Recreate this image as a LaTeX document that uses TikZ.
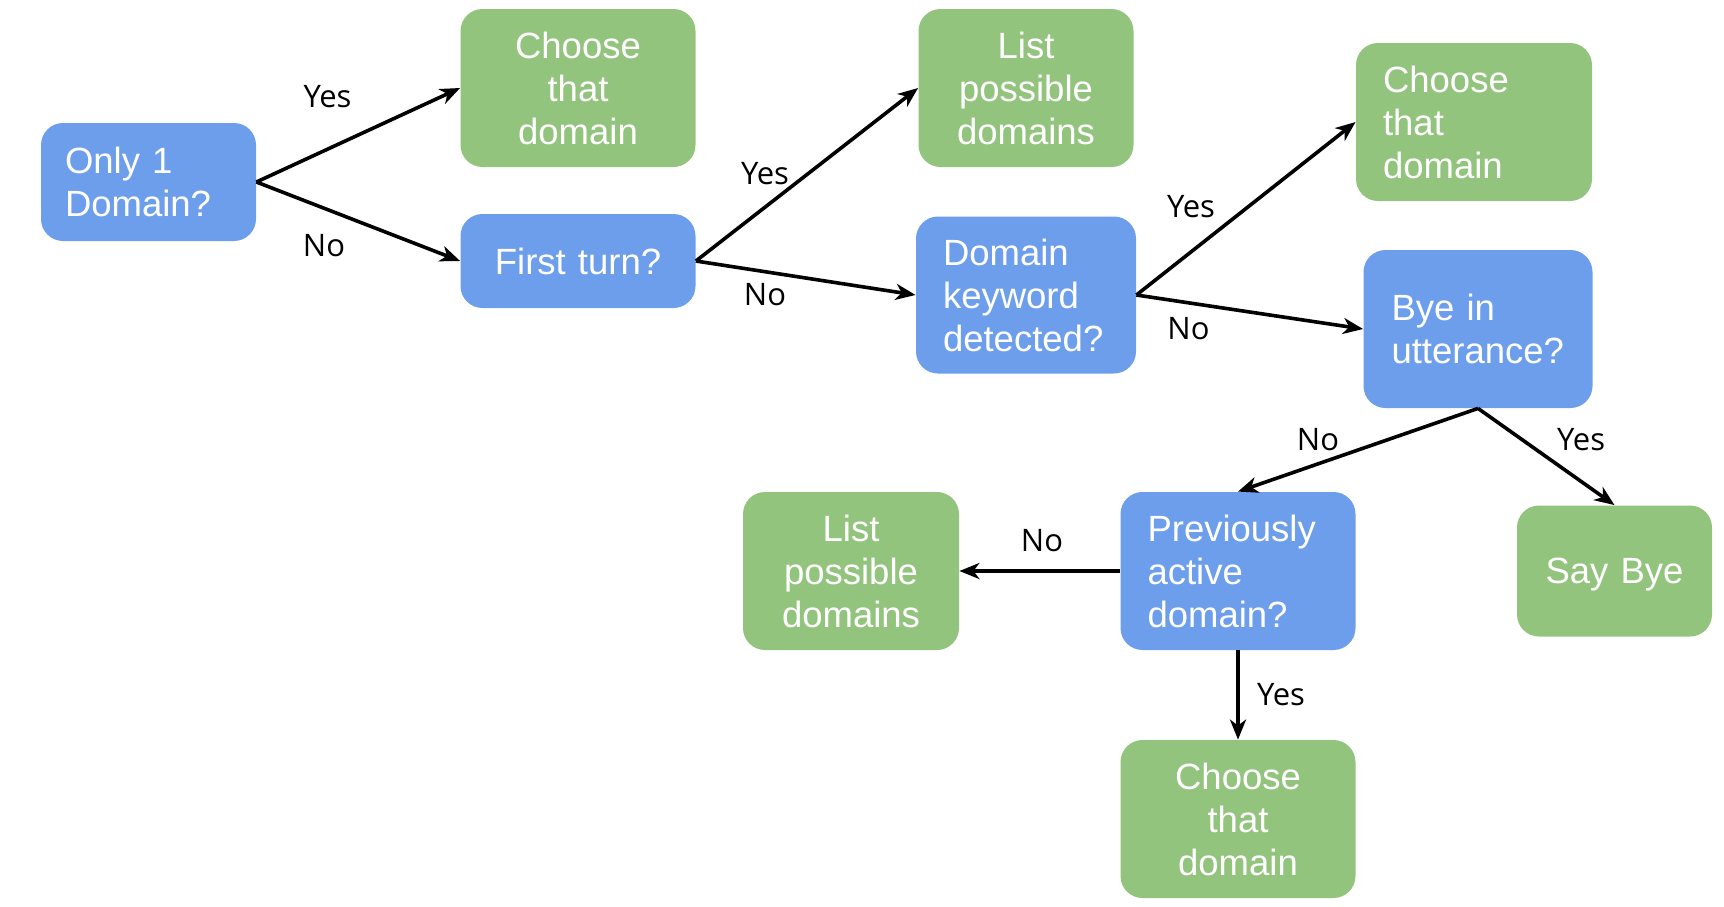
\documentclass[tikz,border=0pt]{standalone}
\usepackage{fontspec}
\setmainfont{Liberation Sans}
\newfontfamily\answerfont{Open Sans}
\usetikzlibrary{arrows.meta}
\definecolor{askblue}{HTML}{6D9EEB}
\definecolor{actgreen}{HTML}{93C47D}

\begin{document}
\begin{tikzpicture}[x=0.5pt,y=-0.5pt]
        \tikzstyle{every node} = [rectangle]
        \tikzstyle{ask} = [fill=askblue, text=white, rounded corners=11pt, inner ysep=0pt, font=\fontsize{18.25}{21.5}\selectfont]
        \tikzstyle{act} = [fill=actgreen, text=white, rounded corners=11pt, inner ysep=0pt, font=\fontsize{18.25}{21.5}\selectfont]
        \tikzstyle{answer} = [font=\answerfont\fontsize{15.5}{18}\selectfont]
        \useasboundingbox (0,0) rectangle (1724,906);

        \node[ask, minimum height=59pt, text width=83.5pt, inner xsep=12pt, align=left] (only) at (148.5,182) {Only 1\\Domain?};
        \node[act, minimum height=79pt, text width=93.5pt, inner xsep=12pt, align=center] (choose1) at (578,88) {Choose\\that\\domain};
        \node[ask, minimum height=47pt, text width=93.5pt, inner xsep=12pt, align=center] (first) at (578,261) {First turn?};
        \node[act, minimum height=79pt, text width=83.5pt, inner xsep=12pt, align=center] (list1) at (1026,88) {List\\possible\\domains};
        \node[ask, minimum height=78.5pt, text width=83pt, inner xsep=13.5pt, align=left] (keyword) at (1026,295) {Domain\\keyword\\detected?};
        \node[act, minimum height=79pt, text width=91pt, inner xsep=13.5pt, align=left] (choose2) at (1474,122) {Choose\\that\\domain};
        \node[ask, minimum height=79pt, text width=86.5pt, inner xsep=14pt, align=left] (bye) at (1478,329) {Bye in\\utterance?};
        \node[act, minimum height=65.5pt, text width=73.5pt, inner xsep=12pt, text depth=0pt, align=center] (saybye) at (1614.5,571) {Say Bye};
        \node[ask, minimum height=79pt, text width=90.5pt, inner xsep=13.5pt, align=left] (prev) at (1238,571) {Previously\\active\\domain?};
        \node[act, minimum height=79pt, text width=84pt, inner xsep=12pt, align=center] (list2) at (851,571) {List\\possible\\domains};
        \node[act, minimum height=79pt, text width=93.5pt, inner xsep=12pt, align=center] (choose3) at (1238,819) {Choose\\that\\domain};

        % yes / no answers
        \node[answer] (yes1) at (327.5,97) {Yes};
        \node[answer] (no1) at (324,246) {No};
        \node[answer] (yes2) at (765,174) {Yes};
        \node[answer] (no2) at (765,295) {No};
        \node[answer] (yes3) at (1191,207) {Yes};
        \node[answer] (no3) at (1188.5,329) {No};
        \node[answer] (no4) at (1318,440) {No};
        \node[answer] (yes4) at (1581,440) {Yes};
        \node[answer] (no5) at (1042,541) {No};
        \node[answer] (yes5) at (1281,695) {Yes};

        \foreach \from/\to in {only.east/choose1.west, only.east/first.west, first.east/list1.west, first.east/keyword.west, keyword.east/choose2.west, keyword.east/bye.west, bye.south/prev.north, bye.south/saybye.north, prev.west/list2.east, prev.south/choose3.north}
            \draw[line width=1.8pt, -{Stealth[length=10pt,width=8pt,inset=3pt]}] (\from) -- (\to);
\end{tikzpicture}
\end{document}
